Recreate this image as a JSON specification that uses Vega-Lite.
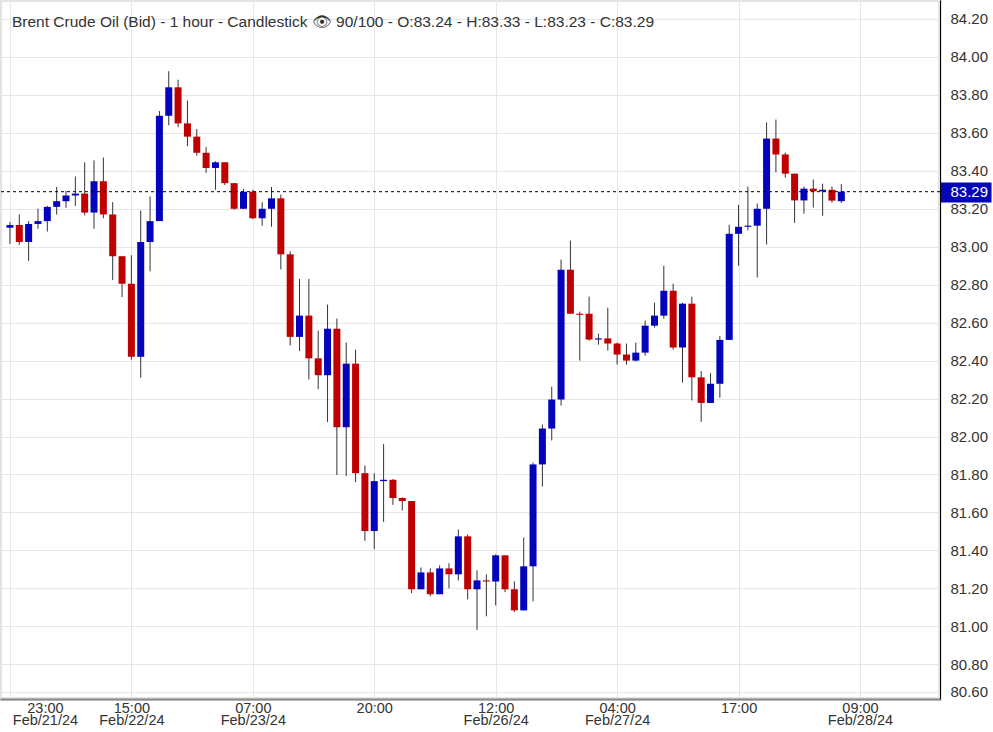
{
  "$schema": "https://vega.github.io/schema/vega-lite/v6.json",
  "width": 940,
  "height": 699,
  "autosize": {"type": "none"},
  "padding": {"left": 0, "top": 0, "right": 53, "bottom": 33},
  "background": "white",
  "title": {
    "text": "Brent Crude Oil (Bid) - 1 hour - Candlestick 👁 90/100 - O:83.24 - H:83.33 - L:83.23 - C:83.29",
    "anchor": "start",
    "frame": "group",
    "orient": "top",
    "offset": -30,
    "dx": 12,
    "font": "Liberation Sans",
    "fontSize": 15.5,
    "fontWeight": "normal",
    "color": "#333333"
  },
  "config": {
    "font": "Liberation Sans",
    "view": {"stroke": "#e3e3e3", "strokeWidth": 4},
    "axis": {"labelOverlap": false, "labelBound": false, "labelFlush": false}
  },
  "datasets": {
    "candles": [
      {"i": 0, "o": 83.10, "h": 83.13, "l": 83.015, "c": 83.115},
      {"i": 1, "o": 83.115, "h": 83.17, "l": 83.01, "c": 83.025},
      {"i": 2, "o": 83.025, "h": 83.135, "l": 82.925, "c": 83.12},
      {"i": 3, "o": 83.12, "h": 83.20, "l": 83.095, "c": 83.135},
      {"i": 4, "o": 83.135, "h": 83.215, "l": 83.08, "c": 83.21},
      {"i": 5, "o": 83.21, "h": 83.315, "l": 83.17, "c": 83.24},
      {"i": 6, "o": 83.24, "h": 83.295, "l": 83.205, "c": 83.27},
      {"i": 7, "o": 83.27, "h": 83.37, "l": 83.215, "c": 83.28},
      {"i": 8, "o": 83.28, "h": 83.445, "l": 83.165, "c": 83.18},
      {"i": 9, "o": 83.18, "h": 83.455, "l": 83.095, "c": 83.345},
      {"i": 10, "o": 83.345, "h": 83.47, "l": 83.15, "c": 83.17},
      {"i": 11, "o": 83.17, "h": 83.235, "l": 82.825, "c": 82.95},
      {"i": 12, "o": 82.95, "h": 82.95, "l": 82.735, "c": 82.805},
      {"i": 13, "o": 82.805, "h": 82.955, "l": 82.405, "c": 82.42},
      {"i": 14, "o": 82.42, "h": 83.19, "l": 82.31, "c": 83.025},
      {"i": 15, "o": 83.025, "h": 83.265, "l": 82.87, "c": 83.135},
      {"i": 16, "o": 83.135, "h": 83.715, "l": 83.135, "c": 83.69},
      {"i": 17, "o": 83.69, "h": 83.925, "l": 83.64, "c": 83.84},
      {"i": 18, "o": 83.84, "h": 83.88, "l": 83.63, "c": 83.65},
      {"i": 19, "o": 83.65, "h": 83.77, "l": 83.53, "c": 83.58},
      {"i": 20, "o": 83.58, "h": 83.62, "l": 83.48, "c": 83.495},
      {"i": 21, "o": 83.495, "h": 83.525, "l": 83.39, "c": 83.415},
      {"i": 22, "o": 83.415, "h": 83.45, "l": 83.30, "c": 83.445},
      {"i": 23, "o": 83.445, "h": 83.445, "l": 83.325, "c": 83.335},
      {"i": 24, "o": 83.335, "h": 83.335, "l": 83.195, "c": 83.20},
      {"i": 25, "o": 83.20, "h": 83.305, "l": 83.20, "c": 83.29},
      {"i": 26, "o": 83.29, "h": 83.30, "l": 83.145, "c": 83.15},
      {"i": 27, "o": 83.15, "h": 83.235, "l": 83.11, "c": 83.20},
      {"i": 28, "o": 83.20, "h": 83.315, "l": 83.105, "c": 83.255},
      {"i": 29, "o": 83.255, "h": 83.275, "l": 82.88, "c": 82.96},
      {"i": 30, "o": 82.96, "h": 82.975, "l": 82.48, "c": 82.525},
      {"i": 31, "o": 82.525, "h": 82.83, "l": 82.45, "c": 82.637},
      {"i": 32, "o": 82.637, "h": 82.83, "l": 82.30, "c": 82.412},
      {"i": 33, "o": 82.412, "h": 82.558, "l": 82.25, "c": 82.323},
      {"i": 34, "o": 82.323, "h": 82.695, "l": 82.076, "c": 82.568},
      {"i": 35, "o": 82.568, "h": 82.621, "l": 81.797, "c": 82.049},
      {"i": 36, "o": 82.049, "h": 82.495, "l": 81.791, "c": 82.384},
      {"i": 37, "o": 82.384, "h": 82.458, "l": 81.76, "c": 81.807},
      {"i": 38, "o": 81.807, "h": 81.848, "l": 81.45, "c": 81.502},
      {"i": 39, "o": 81.502, "h": 81.806, "l": 81.407, "c": 81.765},
      {"i": 40, "o": 81.765, "h": 81.96, "l": 81.55, "c": 81.772},
      {"i": 41, "o": 81.772, "h": 81.776, "l": 81.64, "c": 81.676},
      {"i": 42, "o": 81.676, "h": 81.68, "l": 81.61, "c": 81.66},
      {"i": 43, "o": 81.66, "h": 81.66, "l": 81.175, "c": 81.195},
      {"i": 44, "o": 81.195, "h": 81.31, "l": 81.195, "c": 81.284},
      {"i": 45, "o": 81.284, "h": 81.305, "l": 81.158, "c": 81.169},
      {"i": 46, "o": 81.169, "h": 81.321, "l": 81.169, "c": 81.305},
      {"i": 47, "o": 81.305, "h": 81.332, "l": 81.20, "c": 81.274},
      {"i": 48, "o": 81.274, "h": 81.51, "l": 81.242, "c": 81.474},
      {"i": 49, "o": 81.474, "h": 81.484, "l": 81.142, "c": 81.195},
      {"i": 50, "o": 81.195, "h": 81.295, "l": 80.98, "c": 81.242},
      {"i": 51, "o": 81.242, "h": 81.274, "l": 81.053, "c": 81.236},
      {"i": 52, "o": 81.236, "h": 81.379, "l": 81.11, "c": 81.374},
      {"i": 53, "o": 81.374, "h": 81.374, "l": 81.18, "c": 81.195},
      {"i": 54, "o": 81.195, "h": 81.237, "l": 81.074, "c": 81.084},
      {"i": 55, "o": 81.084, "h": 81.468, "l": 81.084, "c": 81.316},
      {"i": 56, "o": 81.316, "h": 81.863, "l": 81.132, "c": 81.853},
      {"i": 57, "o": 81.853, "h": 82.063, "l": 81.737, "c": 82.042},
      {"i": 58, "o": 82.042, "h": 82.263, "l": 81.979, "c": 82.195},
      {"i": 59, "o": 82.195, "h": 82.932, "l": 82.163, "c": 82.879},
      {"i": 60, "o": 82.879, "h": 83.032, "l": 82.647, "c": 82.647},
      {"i": 61, "o": 82.647, "h": 82.658, "l": 82.40, "c": 82.641},
      {"i": 62, "o": 82.647, "h": 82.737, "l": 82.505, "c": 82.511},
      {"i": 63, "o": 82.511, "h": 82.542, "l": 82.484, "c": 82.517},
      {"i": 64, "o": 82.517, "h": 82.679, "l": 82.453, "c": 82.49},
      {"i": 65, "o": 82.49, "h": 82.495, "l": 82.379, "c": 82.432},
      {"i": 66, "o": 82.432, "h": 82.49, "l": 82.379, "c": 82.40},
      {"i": 67, "o": 82.40, "h": 82.495, "l": 82.395, "c": 82.442},
      {"i": 68, "o": 82.442, "h": 82.611, "l": 82.426, "c": 82.584},
      {"i": 69, "o": 82.584, "h": 82.705, "l": 82.574, "c": 82.637},
      {"i": 70, "o": 82.637, "h": 82.90, "l": 82.621, "c": 82.768},
      {"i": 71, "o": 82.768, "h": 82.805, "l": 82.458, "c": 82.469},
      {"i": 72, "o": 82.469, "h": 82.705, "l": 82.284, "c": 82.70},
      {"i": 73, "o": 82.70, "h": 82.737, "l": 82.19, "c": 82.312},
      {"i": 74, "o": 82.312, "h": 82.345, "l": 82.077, "c": 82.177},
      {"i": 75, "o": 82.177, "h": 82.334, "l": 82.177, "c": 82.278},
      {"i": 76, "o": 82.278, "h": 82.53, "l": 82.204, "c": 82.509},
      {"i": 77, "o": 82.509, "h": 83.116, "l": 82.509, "c": 83.068},
      {"i": 78, "o": 83.068, "h": 83.221, "l": 82.90, "c": 83.105},
      {"i": 79, "o": 83.105, "h": 83.317, "l": 83.086, "c": 83.111},
      {"i": 80, "o": 83.111, "h": 83.227, "l": 82.838, "c": 83.20},
      {"i": 81, "o": 83.20, "h": 83.655, "l": 83.012, "c": 83.57},
      {"i": 82, "o": 83.57, "h": 83.67, "l": 83.392, "c": 83.486},
      {"i": 83, "o": 83.486, "h": 83.496, "l": 83.364, "c": 83.385},
      {"i": 84, "o": 83.385, "h": 83.385, "l": 83.126, "c": 83.244},
      {"i": 85, "o": 83.244, "h": 83.317, "l": 83.174, "c": 83.306},
      {"i": 86, "o": 83.306, "h": 83.354, "l": 83.206, "c": 83.292},
      {"i": 87, "o": 83.292, "h": 83.332, "l": 83.163, "c": 83.30},
      {"i": 88, "o": 83.30, "h": 83.317, "l": 83.232, "c": 83.243},
      {"i": 89, "o": 83.24, "h": 83.33, "l": 83.23, "c": 83.29}
    ],
    "last": [{"price": 83.29}]
  },
  "encoding": {
    "x": {
      "field": "i",
      "type": "quantitative",
      "scale": {"domain": [-0.53, 99.03], "nice": false, "zero": false},
      "axis": {
        "values": [0, 13, 26, 39, 52, 65, 78, 91],
        "tickCount": 40,
        "labelExpr": "datum.value == 0 ? ['23:00', 'Feb/21/24'] : datum.value == 13 ? ['15:00', 'Feb/22/24'] : datum.value == 26 ? ['07:00', 'Feb/23/24'] : datum.value == 39 ? ['20:00'] : datum.value == 52 ? ['12:00', 'Feb/26/24'] : datum.value == 65 ? ['04:00', 'Feb/27/24'] : datum.value == 78 ? ['17:00'] : ['09:00', 'Feb/28/24']",
        "grid": true,
        "gridColor": "#e6e6e6",
        "gridWidth": 1,
        "ticks": false,
        "domain": true,
        "domainColor": "#888888",
        "domainWidth": 2,
        "labelFont": "Liberation Sans",
        "labelFontSize": 14.5,
        "labelColor": "#333333",
        "labelPadding": 2,
        "labelLineHeight": 12.5,
        "labelOverlap": false,
        "labelFlush": false,
        "labelBound": false,
        "labelOffset": {"condition": {"test": "datum.value == 0", "value": 35}, "value": 0},
        "title": null
      }
    }
  },
  "layer": [
    {
      "data": {"name": "candles"},
      "mark": {"type": "rule", "color": "#333333", "strokeWidth": 1},
      "encoding": {
        "y": {
          "field": "l",
          "type": "quantitative",
          "title": null,
          "scale": {"domain": [80.617, 84.3], "nice": false, "zero": false},
          "axis": {
            "orient": "right",
            "values": [80.654, 80.8, 81.0, 81.2, 81.4, 81.6, 81.8, 82.0, 82.2, 82.4, 82.6, 82.8, 83.0, 83.2, 83.29, 83.4, 83.6, 83.8, 84.0, 84.2],
            "tickCount": 60,
            "labelExpr": "datum.value < 80.7 ? '80.60' : format(datum.value, '.2f')",
            "grid": true,
            "gridColor": "#e6e6e6",
            "gridWidth": 1,
            "gridOpacity": {"condition": {"test": "datum.value == 83.29", "value": 0}, "value": 1},
            "domain": true,
            "domainColor": "#000000",
            "domainWidth": 1,
            "ticks": true,
            "tickColor": "#0505b8",
            "tickSize": {"condition": {"test": "datum.value == 83.29", "value": 51}, "value": 0},
            "tickWidth": {"condition": {"test": "datum.value == 83.29", "value": 20}, "value": 0},
            "labelFont": "Liberation Sans",
            "labelFontSize": 15,
            "labelColor": {"condition": {"test": "datum.value == 83.29", "value": "#ffffff"}, "value": "#333333"},
            "labelPadding": {"condition": {"test": "datum.value == 83.29", "value": -41}, "value": 10},
            "labelOverlap": false,
            "labelBound": false,
            "title": null
          }
        },
        "y2": {"field": "h"}
      }
    },
    {
      "data": {"name": "candles"},
      "mark": {"type": "bar", "size": 7},
      "encoding": {
        "y": {"field": "o", "type": "quantitative", "title": null, "scale": {"domain": [80.617, 84.3], "nice": false, "zero": false}, "axis": {"labelOverlap": false, "tickCount": 60, "title": null}},
        "y2": {"field": "c"},
        "color": {"condition": {"test": "datum.c >= datum.o", "value": "#0404bc"}, "value": "#c00000"}
      }
    },
    {
      "data": {"name": "last"},
      "mark": {"type": "rule", "color": "#000000", "strokeWidth": 1, "strokeDash": [3, 3]},
      "encoding": {
        "x": null,
        "y": {"field": "price", "type": "quantitative", "title": null, "scale": {"domain": [80.617, 84.3], "nice": false, "zero": false}, "axis": {"labelOverlap": false, "tickCount": 60, "title": null}}
      }
    }
  ]
}
